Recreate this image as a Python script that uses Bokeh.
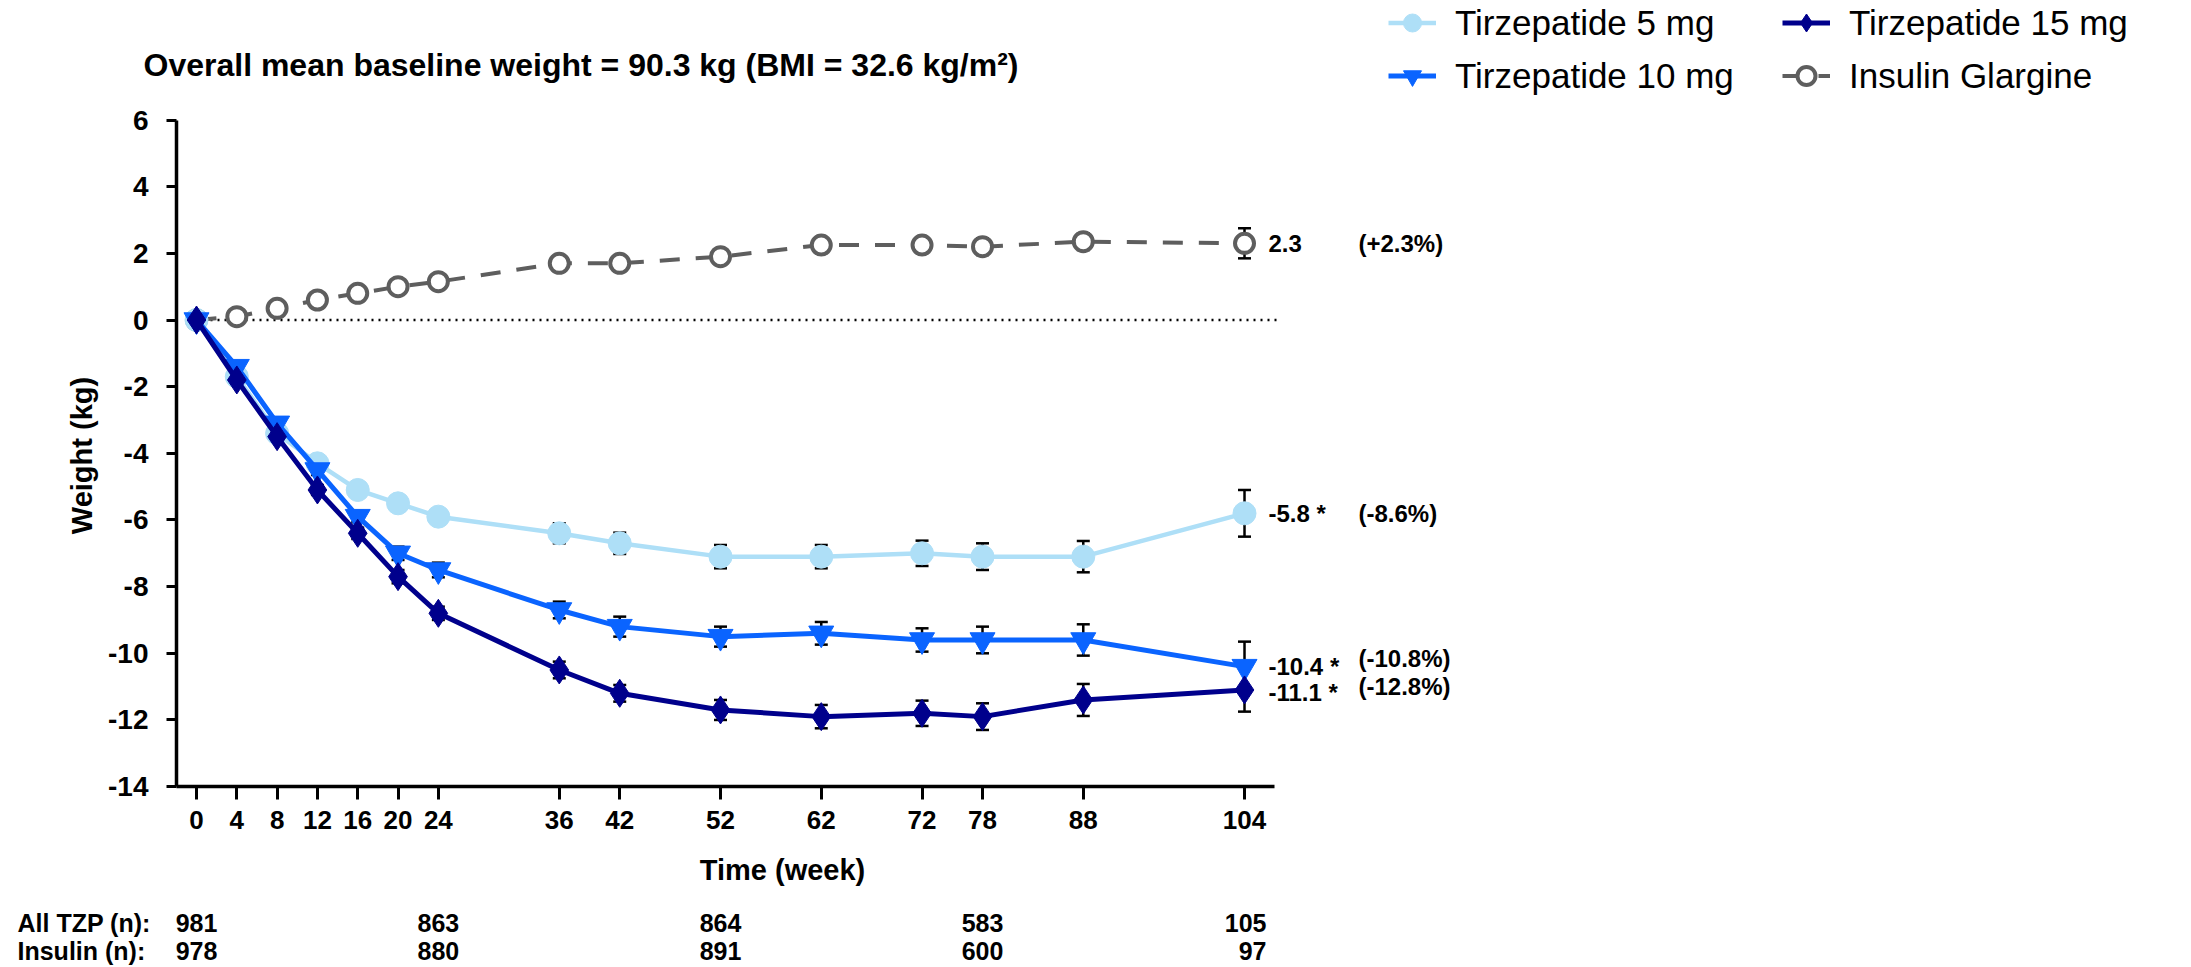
from bokeh.plotting import figure
from bokeh.models import (ColumnDataSource, FixedTicker, Legend, LegendItem, Label,
                          Whisker, TeeHead, Range1d)
from bokeh.core.properties import value
from bokeh.embed import file_html
from bokeh.resources import INLINE

# ---------------- data ----------------
weeks = [0, 4, 8, 12, 16, 20, 24, 36, 42, 52, 62, 72, 78, 88, 104]
tzp5 = [0, -1.7, -3.4, -4.3, -5.1, -5.5, -5.9, -6.4, -6.7, -7.1, -7.1, -7.0, -7.1, -7.1, -5.8]
tzp10 = [0, -1.4, -3.1, -4.5, -5.9, -7.0, -7.5, -8.7, -9.2, -9.5, -9.4, -9.6, -9.6, -9.6, -10.4]
tzp15 = [0, -1.8, -3.5, -5.1, -6.4, -7.7, -8.8, -10.5, -11.2, -11.7, -11.9, -11.8, -11.9, -11.4, -11.1]
insulin = [0, 0.1, 0.35, 0.6, 0.8, 1.0, 1.15, 1.7, 1.7, 1.9, 2.25, 2.25, 2.2, 2.35, 2.3]

se5 = [0, 0.1, 0.12, 0.15, 0.17, 0.2, 0.2, 0.3, 0.32, 0.35, 0.35, 0.38, 0.4, 0.47, 0.7]
se10 = [0, 0.1, 0.12, 0.15, 0.17, 0.2, 0.22, 0.25, 0.3, 0.3, 0.34, 0.35, 0.4, 0.47, 0.75]
se15 = [0, 0.1, 0.12, 0.15, 0.17, 0.2, 0.2, 0.25, 0.25, 0.3, 0.35, 0.38, 0.4, 0.48, 0.65]
se_ins = [0, 0.08, 0.1, 0.12, 0.12, 0.15, 0.15, 0.18, 0.2, 0.2, 0.22, 0.22, 0.25, 0.25, 0.45]

series_names = ["Tirzepatide 5 mg", "Tirzepatide 10 mg", "Tirzepatide 15 mg", "Insulin Glargine"]
end_labels = ["-5.8 *", "-10.4 *", "-11.1 *", "2.3"]
pct_labels = ["(-8.6%)", "(-10.8%)", "(-12.8%)", "(+2.3%)"]

n_weeks = [0, 24, 52, 78, 104]
n_tzp = ["981", "863", "864", "583", "105"]
n_ins = ["978", "880", "891", "600", "97"]
n_row_labels = ["All TZP (n):", "Insulin (n):"]

title_text = "Overall mean baseline weight = 90.3 kg (BMI = 32.6 kg/m\u00b2)"
y_ticks = list(range(-14, 7, 2))

# ---------------- layout helpers (canvas pixel -> data) ----------------
W, H = 2191, 967
PPW = 10.077          # px per week
PPU = 33.33           # px per kg
X0PX = 196.0          # px of week 0
Y0PX = 319.5          # px of 0 kg
YAXIS_PX = 176


def xd(px):
    return (px - X0PX) / PPW


def yd(py):
    return (Y0PX - py) / PPU


FONT = "Liberation Sans"

p = figure(width=W, height=H, output_backend="svg", toolbar_location=None,
           x_range=Range1d(xd(0), xd(W)), y_range=Range1d(yd(H), yd(0)),
           min_border=0, min_border_left=0, min_border_right=0,
           min_border_top=0, min_border_bottom=0)
p.outline_line_color = None
p.xgrid.visible = False
p.ygrid.visible = False
p.background_fill_color = "white"
p.border_fill_color = "white"

# axes
for ax in (p.xaxis[0], p.yaxis[0]):
    ax.axis_line_width = 3.5
    ax.axis_line_color = "black"
    ax.major_tick_line_width = 3
    ax.major_tick_line_color = "black"
    ax.major_tick_in = 0
    ax.minor_tick_line_color = None
    ax.major_label_text_font = FONT
    ax.major_label_text_font_style = "bold"
    ax.major_label_text_color = "black"

p.yaxis.fixed_location = xd(YAXIS_PX)
p.yaxis.ticker = FixedTicker(ticks=y_ticks)
p.yaxis.major_label_overrides = {t: str(t) for t in y_ticks}
p.yaxis.major_tick_out = 10
p.yaxis.major_label_text_font_size = "28px"
p.yaxis.major_label_standoff = 18
p.yaxis.bounds = (y_ticks[0], y_ticks[-1])

p.xaxis.fixed_location = y_ticks[0]
p.xaxis.ticker = FixedTicker(ticks=weeks)
p.xaxis.major_tick_out = 13
p.xaxis.major_label_text_font_size = "26px"
p.xaxis.major_label_standoff = 11
p.xaxis.bounds = (xd(YAXIS_PX), weeks[-1] + 3.0)

# zero reference line (dotted)
p.segment(x0=[weeks[0]], x1=[weeks[-1] + 3.5], y0=[0], y1=[0],
          line_color="black", line_width=2.5, line_dash="2 5")


# error bars
def add_err(vals, se):
    src = ColumnDataSource(dict(x=weeks, upper=[v + s for v, s in zip(vals, se)],
                                lower=[v - s for v, s in zip(vals, se)]))
    w = Whisker(source=src, base="x", upper="upper", lower="lower",
                line_color="black", line_width=2.5,
                upper_head=TeeHead(size=13, line_width=2.5, line_color="black"),
                lower_head=TeeHead(size=13, line_width=2.5, line_color="black"))
    p.add_layout(w)


add_err(insulin, se_ins)
add_err(tzp5, se5)
add_err(tzp10, se10)
add_err(tzp15, se15)

C5, C10, C15, CI = "#AEDFF7", "#0A64FF", "#00008C", "#5E5E5E"

li = p.line(weeks, insulin, line_color=CI, line_width=4, line_dash="20 16")
si = p.scatter(weeks, insulin, marker="circle", size=19, fill_color="white",
               line_color=CI, line_width=4)
l5 = p.line(weeks, tzp5, line_color=C5, line_width=4.5)
s5 = p.scatter(weeks, tzp5, marker="circle", size=23, fill_color=C5, line_color=C5)
l10 = p.line(weeks, tzp10, line_color=C10, line_width=5)
s10 = p.scatter(weeks, tzp10, marker="inverted_triangle", size=25, fill_color=C10, line_color=C10)
l15 = p.line(weeks, tzp15, line_color=C15, line_width=5)
s15 = p.scatter(weeks, tzp15, marker="diamond", size=28, fill_color=C15, line_color=C15)

# end-of-line labels
end_vals = [tzp5[-1], tzp10[-1], tzp15[-1], insulin[-1]]
end_dy = [0, 0, 3, 0]
pct_dy = [0, -8, -3, 0]
p.text(x=[weeks[-1]] * 4, y=end_vals, text=end_labels, x_offset=24,
       y_offset=end_dy, text_font=value(FONT), text_font_style="bold",
       text_font_size="24px", text_baseline="middle", text_align="left", text_color="black")
p.text(x=[xd(1358)] * 4, y=end_vals, text=pct_labels, y_offset=pct_dy,
       text_font=value(FONT), text_font_style="bold",
       text_font_size="24px", text_baseline="middle", text_align="left", text_color="black")

# legend
items = [LegendItem(label=series_names[0], renderers=[l5, s5]),
         LegendItem(label=series_names[1], renderers=[l10, s10]),
         LegendItem(label=series_names[2], renderers=[l15, s15]),
         LegendItem(label=series_names[3], renderers=[li, si])]
leg = Legend(items=items, ncols=2, location=(1388, H - 98), margin=0, padding=0,
             spacing=8, glyph_width=48, glyph_height=45, label_standoff=19,
             label_width=319, label_text_font=FONT, label_text_font_size="35px",
             label_text_color="black", border_line_color=None,
             background_fill_alpha=0)
p.add_layout(leg)

# title & axis titles
p.add_layout(Label(x=xd(143), y=yd(64), text=title_text, text_font=FONT,
                   text_font_style="bold", text_font_size="32px",
                   text_baseline="middle", text_align="left", text_color="black"))
p.add_layout(Label(x=xd(81), y=yd(455), text="Weight (kg)", angle=1.5707963,
                   text_font=FONT, text_font_style="bold", text_font_size="29px",
                   text_baseline="middle", text_align="center", text_color="black"))
p.add_layout(Label(x=xd(782), y=yd(869), text="Time (week)",
                   text_font=FONT, text_font_style="bold", text_font_size="29px",
                   text_baseline="middle", text_align="center", text_color="black"))

# n table
row_y = [yd(922), yd(950)]
for lab, ry in zip(n_row_labels, row_y):
    p.add_layout(Label(x=xd(17), y=ry, text=lab, text_font=FONT, text_font_style="bold",
                       text_font_size="25px", text_baseline="middle", text_align="left",
                       text_color="black"))
for i, (wk, a, b) in enumerate(zip(n_weeks, n_tzp, n_ins)):
    last = i == len(n_weeks) - 1
    for txt, ry in ((a, row_y[0]), (b, row_y[1])):
        p.add_layout(Label(x=wk, y=ry, text=txt, text_font=FONT, text_font_style="bold",
                           text_font_size="25px", text_baseline="middle",
                           text_align="right" if last else "center",
                           x_offset=22 if last else 0, text_color="black"))

open("out.html", "w").write(file_html(p, INLINE))
